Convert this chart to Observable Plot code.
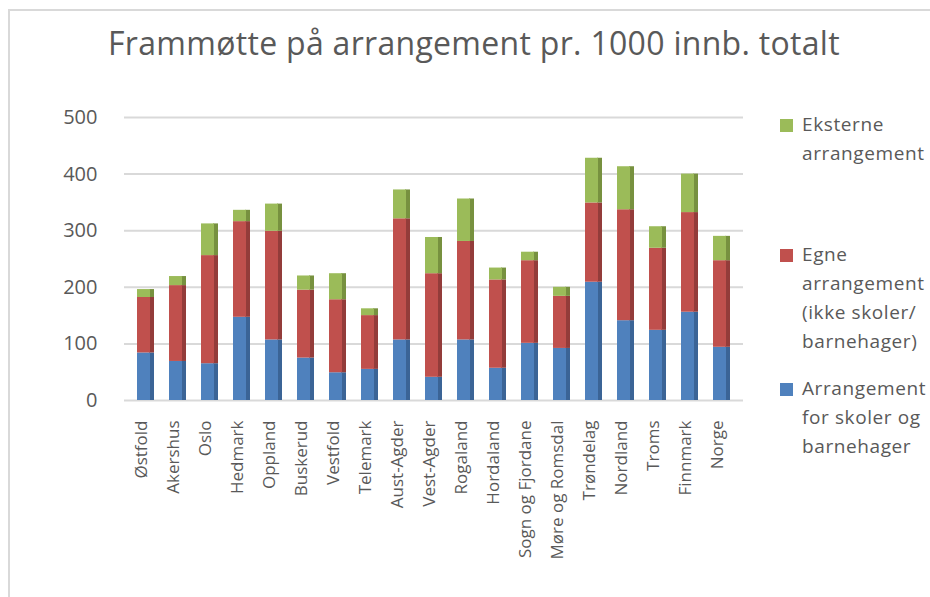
<!DOCTYPE html>
<html>
<head>
<meta charset="utf-8">
<script src="https://cdn.jsdelivr.net/npm/d3@7"></script>
<script src="https://cdn.jsdelivr.net/npm/@observablehq/plot@0.6"></script>
<style>
  html, body { margin: 0; padding: 0; background: #fff; }
  #wrap { position: relative; width: 930px; height: 597px; overflow: hidden; font-family: "Open Sans", sans-serif; color: #595959; }
  #frame { position: absolute; left: 8px; top: 9px; width: 1000px; height: 700px; border-left: 2px solid #d9d9d9; border-top: 2px solid #d9d9d9; }
  #title { position: absolute; left: 0; width: 948px; top: 21px; text-align: center; font-size: 32px; letter-spacing: 0.3px; white-space: nowrap; }
  #chart { position: absolute; left: 0; top: 0; }
  .leg { position: absolute; left: 780px; font-size: 19px; line-height: 29px; letter-spacing: 0.6px; }
  .leg .sw { position: absolute; left: 0; top: 9px; width: 13px; height: 13px; }
  .leg .tx { margin-left: 22px; white-space: nowrap; }
</style>
</head>
<body>
<div id="wrap">
  <div id="frame"></div>
  <div id="chart"></div>
  <div id="title">Frammøtte på arrangement pr. 1000 innb. totalt</div>
  <div id="legend"></div>
</div>
<script>
const regions = ["Østfold","Akershus","Oslo","Hedmark","Oppland","Buskerud","Vestfold","Telemark","Aust-Agder","Vest-Agder","Rogaland","Hordaland","Sogn og Fjordane","Møre og Romsdal","Trøndelag","Nordland","Troms","Finnmark","Norge"];
const skoler   = [84, 69, 65, 147, 107, 75, 49, 55, 107, 41, 107, 57, 101, 92, 209, 141, 124, 156, 94];
const egne     = [98, 134, 191, 169, 192, 120, 129, 95, 214, 183, 174, 156, 146, 92, 140, 196, 145, 176, 153];
const eksterne = [14, 16, 56, 20, 48, 25, 46, 12, 51, 64, 75, 21, 15, 16, 79, 76, 38, 68, 43];
const seriesNames = ["Arrangement for skoler og barnehager", "Egne arrangement (ikke skoler/ barnehager)", "Eksterne arrangement"];
const seriesColors = ["#4F81BD", "#C0504D", "#9BBB59"];
const seriesSideColors = ["#3B6496", "#933C3A", "#77913F"];
const yTicks = [0, 100, 200, 300, 400, 500];

const rows = [];
[skoler, egne, eksterne].forEach((arr, s) => {
  arr.forEach((v, i) => rows.push({region: regions[i], series: seriesNames[s], side: seriesNames[s] + " side", value: v}));
});

const chart = Plot.plot({
  width: 930,
  height: 597,
  marginTop: 117,
  marginBottom: 197,
  marginLeft: 124,
  marginRight: 187,
  style: {fontFamily: "Open Sans, sans-serif", color: "#595959", background: "transparent"},
  x: {domain: regions, paddingInner: 0.48, paddingOuter: 0.24, label: null},
  y: {domain: [0, 500], label: null},
  color: {domain: [...seriesNames, ...seriesNames.map(d => d + " side")], range: [...seriesColors, ...seriesSideColors]},
  marks: [
    Plot.ruleY(yTicks, {stroke: "#d9d9d9", strokeWidth: 2}),
    Plot.barY(rows, Plot.stackY({x: "region", y: "value", fill: "side", order: seriesNames.map(d => d + " side"), insetLeft: 12})),
    Plot.barY(rows, Plot.stackY({x: "region", y: "value", fill: "series", order: seriesNames, insetRight: 4})),
    Plot.axisY({ticks: yTicks, tickSize: 0, tickPadding: 27, fontSize: 20, fill: "#595959", label: null}),
    Plot.axisX({tickSize: 0, tickPadding: 20, tickRotate: -90, fontSize: 17, fill: "#595959", dx: -4, label: null})
  ]
});
document.getElementById("chart").appendChild(chart);

// legend
const legendItems = [
  {color: seriesColors[2], lines: ["Eksterne", "arrangement"], top: 110},
  {color: seriesColors[1], lines: ["Egne", "arrangement", "(ikke skoler/", "barnehager)"], top: 240},
  {color: seriesColors[0], lines: ["Arrangement", "for skoler og", "barnehager"], top: 374}
];
const lg = document.getElementById("legend");
legendItems.forEach(it => {
  const d = document.createElement("div");
  d.className = "leg";
  d.style.top = it.top + "px";
  d.innerHTML = `<div class="sw" style="background:${it.color}"></div><div class="tx">${it.lines.join("<br>")}</div>`;
  lg.appendChild(d);
});
</script>
</body>
</html>
